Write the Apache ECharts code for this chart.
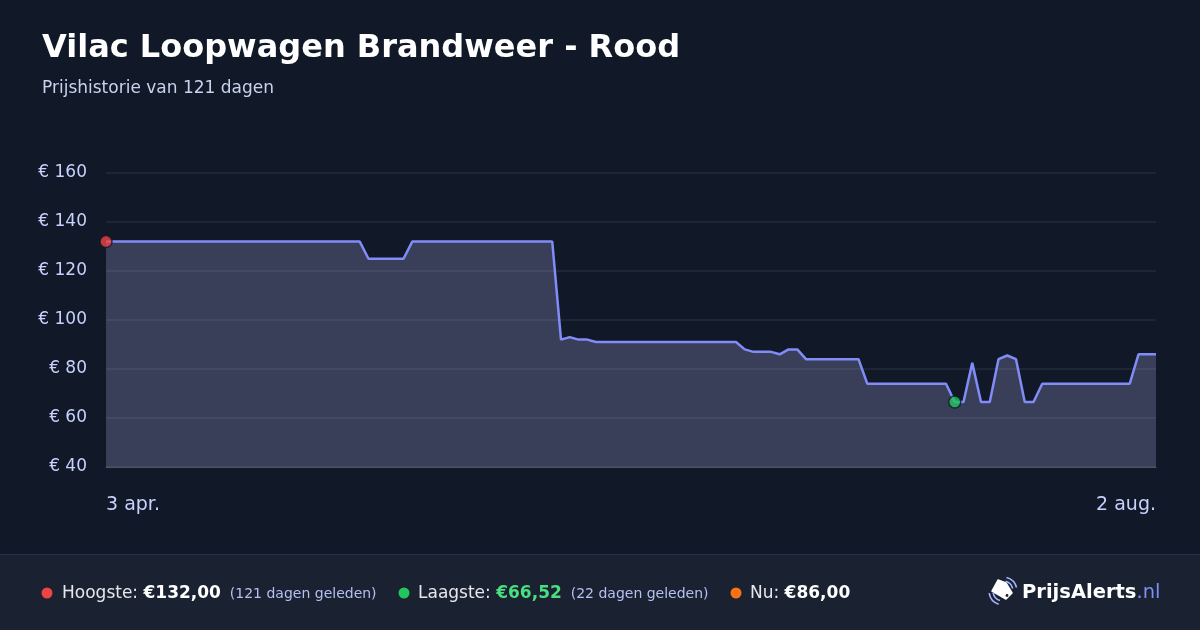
<!DOCTYPE html>
<html><head><meta charset="utf-8">
<script src="https://cdn.jsdelivr.net/npm/echarts@6/dist/echarts.min.js"></script>
<style>html,body{margin:0;padding:0;background:#111827;}#c{width:1200px;height:630px;}</style>
</head><body><div id="c"></div>
<script>
const tickLabels = ['3 apr.', '2 aug.'];
const yTicks = [40, 60, 80, 100, 120, 140, 160];
const prices = [
  132,132,132,132,132,132,132,132,132,132,
  132,132,132,132,132,132,132,132,132,132,
  132,132,132,132,132,132,132,132,132,132,
  125,125,125,125,125,
  132,132,132,132,132,132,132,132,132,132,132,132,132,132,132,132,132,
  92,93,92,92,
  91,91,91,91,91,91,91,91,91,91,91,91,91,91,91,91,91,
  88,
  87,87,87,
  86,
  88,88,
  84,84,84,84,84,84,84,
  74,74,74,74,74,74,74,74,74,74,
  66.52,66.52,
  82.5,
  66.52,66.52,
  84,85.5,84,
  66.52,66.52,
  74,74,74,74,74,74,74,74,74,74,74,
  86,86,86
];
const categories = prices.map((_, i) => String(i));
const highIndex = 0;
const lowIndex = 97;
const summary = { high: '€132,00', highAgo: '(121 dagen geleden)', low: '€66,52', lowAgo: '(22 dagen geleden)', now: '€86,00' };

const font = 'DejaVu Sans';
const chart = echarts.init(document.getElementById('c'), null, { renderer: 'canvas' });
const last = prices.length - 1;
chart.setOption({
  backgroundColor: '#111827',
  animation: false,
  grid: { left: 106, right: 44, top: 173, bottom: 163 },
  xAxis: {
    type: 'category', data: categories, boundaryGap: false,
    axisLine: { show: true, lineStyle: { color: '#4b5563', width: 1 } },
    axisTick: { show: false },
    splitLine: { show: false },
    axisLabel: {
      interval: (i) => i === 0 || i === last,
      formatter: (v, i) => i === 0 ? tickLabels[0] : (i === last ? tickLabels[1] : ''),
      color: '#c7d2fe', fontFamily: font, fontSize: 19, margin: 29,
      alignMinLabel: 'left', alignMaxLabel: 'right'
    }
  },
  yAxis: {
    type: 'value', min: yTicks[0], max: yTicks[yTicks.length - 1], interval: 20,
    axisLine: { show: false }, axisTick: { show: false },
    splitLine: { lineStyle: { color: '#232b3b', width: 1.5 } },
    axisLabel: { formatter: (v) => '€ ' + v, color: '#c7d2fe', fontFamily: font, fontSize: 17, margin: 19, padding: [3, 0, 0, 0] }
  },
  series: [
    {
      type: 'line', data: prices, symbol: 'none',
      lineStyle: { color: '#818cf8', width: 2.5 },
      areaStyle: { color: 'rgba(154,156,204,0.3)', opacity: 1 },
      z: 2
    },
    {
      type: 'scatter', symbol: 'circle', symbolSize: 12,
      data: [
        { value: [highIndex, prices[highIndex]], itemStyle: { color: '#ef4444' } },
        { value: [lowIndex, prices[lowIndex]], itemStyle: { color: '#22c55e' } }
      ],
      itemStyle: { borderColor: '#111827', borderWidth: 1.5 },
      z: 5
    }
  ],
  graphic: [
    { type: 'text', left: 42, top: 33, style: { text: 'Vilac Loopwagen Brandweer - Rood', fill: '#ffffff', font: 'bold 32px "DejaVu Sans"' } },
    { type: 'text', left: 42, top: 80, style: { text: 'Prijshistorie van 121 dagen', fill: '#c8d3ee', font: '17px "DejaVu Sans"' } },
    { type: 'rect', shape: { x: 0, y: 554, width: 1200, height: 76 }, style: { fill: '#1a2131' }, silent: true },
    { type: 'rect', shape: { x: 0, y: 554, width: 1200, height: 1 }, style: { fill: '#263049' }, silent: true },
    { type: 'circle', shape: { cx: 47, cy: 593, r: 5.5 }, style: { fill: '#ef4444' } },
    { type: 'text', x: 62, y: 594, style: {
      text: '{a|Hoogste: }{b|' + summary.high + '}{c|  ' + summary.highAgo + '}',
      verticalAlign: 'middle',
      rich: {
        a: { fill: '#e5e7eb', font: '17px "DejaVu Sans"' },
        b: { fill: '#ffffff', font: 'bold 17px "DejaVu Sans"' },
        c: { fill: '#b4c0f0', font: '14px "DejaVu Sans"' }
      } } },
    { type: 'circle', shape: { cx: 404, cy: 593, r: 5.5 }, style: { fill: '#22c55e' } },
    { type: 'text', x: 418, y: 594, style: {
      text: '{a|Laagste: }{b|' + summary.low + '}{c|  ' + summary.lowAgo + '}',
      verticalAlign: 'middle',
      rich: {
        a: { fill: '#e5e7eb', font: '17px "DejaVu Sans"' },
        b: { fill: '#4ade80', font: 'bold 17px "DejaVu Sans"' },
        c: { fill: '#b4c0f0', font: '14px "DejaVu Sans"' }
      } } },
    { type: 'circle', shape: { cx: 736, cy: 593, r: 5.5 }, style: { fill: '#f97316' } },
    { type: 'text', x: 750, y: 594, style: {
      text: '{a|Nu: }{b|' + summary.now + '}',
      verticalAlign: 'middle',
      rich: {
        a: { fill: '#e5e7eb', font: '17px "DejaVu Sans"' },
        b: { fill: '#ffffff', font: 'bold 17px "DejaVu Sans"' }
      } } },
    // logo icon
    { type: 'polygon', shape: { points: [[998,580],[1006,583],[1012,593],[1006,599],[992,591]] }, style: { fill: '#ffffff', lineJoin: 'round', stroke: '#ffffff', lineWidth: 1.5 } },
    { type: 'circle', shape: { cx: 1007, cy: 595.5, r: 1.4 }, style: { fill: '#1a2131' } },
    { type: 'arc', shape: { cx: 1003, cy: 591, r: 10, startAngle: Math.PI * 0.6, endAngle: Math.PI * 0.95 }, style: { stroke: '#a5b4fc', lineWidth: 1.6, fill: null } },
    { type: 'arc', shape: { cx: 1003, cy: 591, r: 14, startAngle: Math.PI * 0.6, endAngle: Math.PI * 0.95 }, style: { stroke: '#a5b4fc', lineWidth: 1.6, fill: null } },
    { type: 'arc', shape: { cx: 1003, cy: 591, r: 10, startAngle: -Math.PI * 0.42, endAngle: -Math.PI * 0.08 }, style: { stroke: '#a5b4fc', lineWidth: 1.6, fill: null } },
    { type: 'arc', shape: { cx: 1003, cy: 591, r: 14, startAngle: -Math.PI * 0.42, endAngle: -Math.PI * 0.08 }, style: { stroke: '#a5b4fc', lineWidth: 1.6, fill: null } },
    { type: 'text', x: 1022, y: 593, style: {
      text: '{a|PrijsAlerts}{b|.nl}', verticalAlign: 'middle',
      rich: {
        a: { fill: '#ffffff', font: 'bold 19.5px "DejaVu Sans"' },
        b: { fill: '#818cf8', font: '19.5px "DejaVu Sans"' }
      } } }
  ]
});
</script>
</body></html>
